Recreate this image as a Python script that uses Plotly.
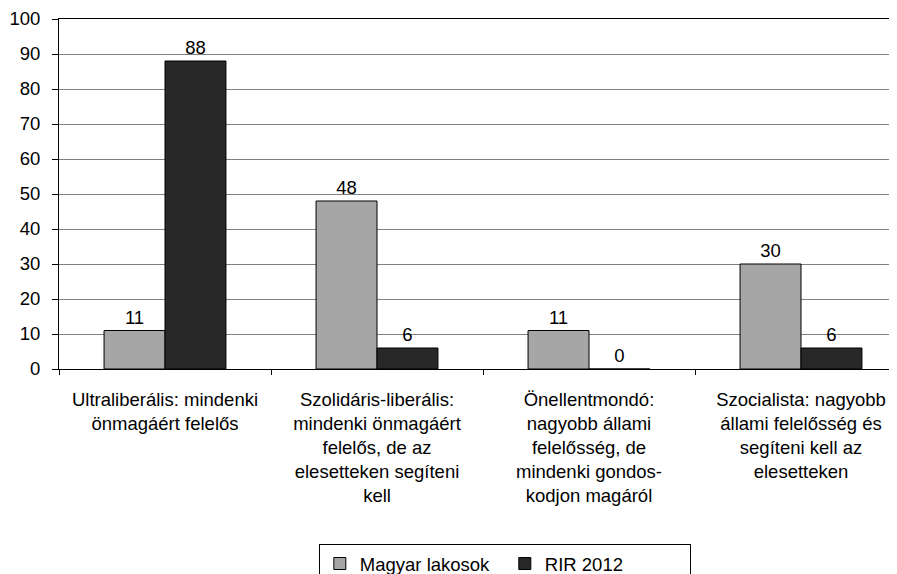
import plotly.graph_objects as go

categories = [
    "Ultraliberális: mindenki<br>önmagáért felelős",
    "Szolidáris-liberális:<br>mindenki önmagáért<br>felelős, de az<br>elesetteken segíteni<br>kell",
    "Önellentmondó:<br>nagyobb állami<br>felelősség, de<br>mindenki gondos-<br>kodjon magáról",
    "Szocialista: nagyobb<br>állami felelősség és<br>segíteni kell az<br>elesetteken",
]
magyar = [11, 48, 11, 30]
rir = [88, 6, 0, 6]
series_names = ["Magyar lakosok", "RIR 2012"]
y_ticks = [0, 10, 20, 30, 40, 50, 60, 70, 80, 90, 100]

FONT = "Liberation Sans, Arial, sans-serif"
FS = 18.5

fig = go.Figure()
fig.add_trace(go.Bar(
    x=categories, y=magyar, name=series_names[0],
    marker=dict(color="#a6a6a6", line=dict(color="#000000", width=1)),
    text=magyar, textposition="outside", cliponaxis=False,
    textfont=dict(size=FS, color="#000000", family=FONT),
))
fig.add_trace(go.Bar(
    x=categories, y=rir, name=series_names[1],
    marker=dict(color="#282828", line=dict(color="#000000", width=1)),
    text=rir, textposition="outside", cliponaxis=False,
    textfont=dict(size=FS, color="#000000", family=FONT),
))

# page body has an 8px margin, so the figure is offset by (8, 8)
fig.update_layout(
    width=889, height=566,
    margin=dict(l=51, r=0, t=11, b=205, autoexpand=False),
    paper_bgcolor="white", plot_bgcolor="white",
    font=dict(family=FONT, size=FS, color="#000000"),
    barmode="group", bargap=0.425, bargroupgap=0,
    showlegend=True,
    legend=dict(
        orientation="h", x=0.532, xanchor="center", y=-0.5, yanchor="top",
        bordercolor="#000000", borderwidth=1, bgcolor="white",
        font=dict(size=FS, family=FONT), itemwidth=30,
        entrywidth=140,
    ),
)
fig.update_xaxes(
    type="category", range=[-0.5, -0.5 + 838 / 212], automargin=False,
    showline=True, linecolor="#000000", linewidth=1, mirror=True,
    ticks="outside", tickson="boundaries", ticklen=5, tickcolor="#000000",
    showgrid=False, tickangle=0,
    tickfont=dict(size=FS, family=FONT),
    ticklabelstandoff=14,
)
fig.update_yaxes(
    range=[0, 100], tickvals=y_ticks, automargin=False,
    showline=True, linecolor="#000000", linewidth=1,
    ticks="outside", ticklen=6, tickcolor="#000000",
    showgrid=True, gridcolor="#808080", gridwidth=1,
    zeroline=False,
    tickfont=dict(size=FS, family=FONT),
    ticklabelstandoff=8,
)

fig.write_html("out.html")
